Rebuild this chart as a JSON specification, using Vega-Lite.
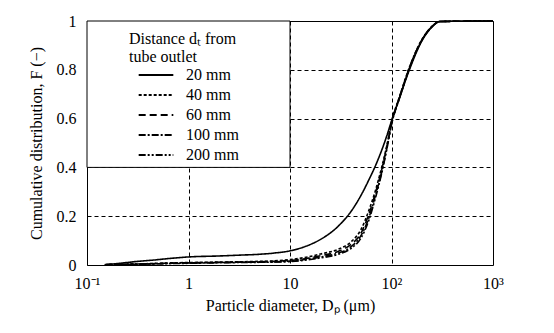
{
  "$schema": "https://vega.github.io/schema/vega-lite/v6.json",
  "width": 406,
  "height": 244,
  "autosize": "none",
  "padding": {"left": 87, "top": 21, "right": 61, "bottom": 68},
  "background": "white",
  "config": {
    "font": "Liberation Serif",
    "view": {"stroke": "black", "strokeWidth": 1},
    "legend": {"labelFont": "Liberation Serif", "titleFont": "Liberation Serif", "labelFontSize": 16, "titleFontSize": 16},
    "axis": {"labelFont": "Liberation Serif", "titleFont": "Liberation Serif", "labelFontSize": 16, "titleFontSize": 16, "titleFontWeight": "normal", "labelColor": "black", "titleColor": "black", "domain": false, "tickColor": "black", "grid": true, "gridColor": "black", "gridDash": [4, 3], "gridOpacity": 1, "gridWidth": 1}
  },
  "layer": [
    {
      "data": {"values": [{"x": 0.1, "x2": 10, "y": 0.4, "y2": 1}]},
      "mark": {"type": "rect", "fill": "white", "stroke": "black", "strokeWidth": 1},
      "encoding": {
        "x": {"field": "x", "type": "quantitative", "scale": {"type": "log", "domain": [0.1, 1000]}},
        "x2": {"field": "x2"},
        "y": {"field": "y", "type": "quantitative", "scale": {"domain": [0, 1]}},
        "y2": {"field": "y2"}
      }
    },
    {
      "data": {"values": [
        {"d": 0.15, "F": 0.002, "s": "20 mm"}, {"d": 0.2, "F": 0.006, "s": "20 mm"}, {"d": 0.3, "F": 0.014, "s": "20 mm"}, {"d": 0.5, "F": 0.022, "s": "20 mm"}, {"d": 0.7, "F": 0.028, "s": "20 mm"}, {"d": 1, "F": 0.033, "s": "20 mm"}, {"d": 2, "F": 0.037, "s": "20 mm"}, {"d": 3, "F": 0.04, "s": "20 mm"}, {"d": 5, "F": 0.044, "s": "20 mm"}, {"d": 7, "F": 0.049, "s": "20 mm"}, {"d": 10, "F": 0.058, "s": "20 mm"}, {"d": 15, "F": 0.08, "s": "20 mm"}, {"d": 20, "F": 0.105, "s": "20 mm"}, {"d": 30, "F": 0.16, "s": "20 mm"}, {"d": 40, "F": 0.22, "s": "20 mm"}, {"d": 50, "F": 0.285, "s": "20 mm"}, {"d": 60, "F": 0.35, "s": "20 mm"}, {"d": 70, "F": 0.41, "s": "20 mm"}, {"d": 80, "F": 0.47, "s": "20 mm"}, {"d": 90, "F": 0.53, "s": "20 mm"}, {"d": 100, "F": 0.59, "s": "20 mm"}, {"d": 120, "F": 0.685, "s": "20 mm"}, {"d": 150, "F": 0.8, "s": "20 mm"}, {"d": 200, "F": 0.92, "s": "20 mm"}, {"d": 250, "F": 0.975, "s": "20 mm"}, {"d": 300, "F": 0.998, "s": "20 mm"}, {"d": 1000, "F": 1, "s": "20 mm"},
        {"d": 0.15, "F": 0.001, "s": "40 mm"}, {"d": 0.2, "F": 0.002, "s": "40 mm"}, {"d": 0.3, "F": 0.004, "s": "40 mm"}, {"d": 0.5, "F": 0.007, "s": "40 mm"}, {"d": 0.7, "F": 0.009, "s": "40 mm"}, {"d": 1, "F": 0.01, "s": "40 mm"}, {"d": 2, "F": 0.012, "s": "40 mm"}, {"d": 3, "F": 0.013, "s": "40 mm"}, {"d": 5, "F": 0.015, "s": "40 mm"}, {"d": 7, "F": 0.017, "s": "40 mm"}, {"d": 10, "F": 0.022, "s": "40 mm"}, {"d": 15, "F": 0.033, "s": "40 mm"}, {"d": 20, "F": 0.045, "s": "40 mm"}, {"d": 30, "F": 0.065, "s": "40 mm"}, {"d": 40, "F": 0.095, "s": "40 mm"}, {"d": 50, "F": 0.145, "s": "40 mm"}, {"d": 60, "F": 0.225, "s": "40 mm"}, {"d": 70, "F": 0.31, "s": "40 mm"}, {"d": 80, "F": 0.4, "s": "40 mm"}, {"d": 90, "F": 0.49, "s": "40 mm"}, {"d": 100, "F": 0.585, "s": "40 mm"}, {"d": 120, "F": 0.69, "s": "40 mm"}, {"d": 150, "F": 0.81, "s": "40 mm"}, {"d": 200, "F": 0.925, "s": "40 mm"}, {"d": 250, "F": 0.978, "s": "40 mm"}, {"d": 300, "F": 0.998, "s": "40 mm"}, {"d": 1000, "F": 1, "s": "40 mm"},
        {"d": 0.15, "F": 0.001, "s": "60 mm"}, {"d": 0.2, "F": 0.002, "s": "60 mm"}, {"d": 0.3, "F": 0.004, "s": "60 mm"}, {"d": 0.5, "F": 0.006, "s": "60 mm"}, {"d": 0.7, "F": 0.008, "s": "60 mm"}, {"d": 1, "F": 0.009, "s": "60 mm"}, {"d": 2, "F": 0.011, "s": "60 mm"}, {"d": 3, "F": 0.012, "s": "60 mm"}, {"d": 5, "F": 0.013, "s": "60 mm"}, {"d": 7, "F": 0.015, "s": "60 mm"}, {"d": 10, "F": 0.019, "s": "60 mm"}, {"d": 15, "F": 0.028, "s": "60 mm"}, {"d": 20, "F": 0.038, "s": "60 mm"}, {"d": 30, "F": 0.056, "s": "60 mm"}, {"d": 40, "F": 0.085, "s": "60 mm"}, {"d": 50, "F": 0.13, "s": "60 mm"}, {"d": 60, "F": 0.21, "s": "60 mm"}, {"d": 70, "F": 0.3, "s": "60 mm"}, {"d": 80, "F": 0.39, "s": "60 mm"}, {"d": 90, "F": 0.485, "s": "60 mm"}, {"d": 100, "F": 0.58, "s": "60 mm"}, {"d": 120, "F": 0.688, "s": "60 mm"}, {"d": 150, "F": 0.808, "s": "60 mm"}, {"d": 200, "F": 0.924, "s": "60 mm"}, {"d": 250, "F": 0.977, "s": "60 mm"}, {"d": 300, "F": 0.998, "s": "60 mm"}, {"d": 1000, "F": 1, "s": "60 mm"},
        {"d": 0.15, "F": 0.001, "s": "100 mm"}, {"d": 0.2, "F": 0.002, "s": "100 mm"}, {"d": 0.3, "F": 0.003, "s": "100 mm"}, {"d": 0.5, "F": 0.005, "s": "100 mm"}, {"d": 0.7, "F": 0.007, "s": "100 mm"}, {"d": 1, "F": 0.008, "s": "100 mm"}, {"d": 2, "F": 0.01, "s": "100 mm"}, {"d": 3, "F": 0.011, "s": "100 mm"}, {"d": 5, "F": 0.012, "s": "100 mm"}, {"d": 7, "F": 0.013, "s": "100 mm"}, {"d": 10, "F": 0.016, "s": "100 mm"}, {"d": 15, "F": 0.024, "s": "100 mm"}, {"d": 20, "F": 0.033, "s": "100 mm"}, {"d": 30, "F": 0.049, "s": "100 mm"}, {"d": 40, "F": 0.075, "s": "100 mm"}, {"d": 50, "F": 0.12, "s": "100 mm"}, {"d": 60, "F": 0.195, "s": "100 mm"}, {"d": 70, "F": 0.29, "s": "100 mm"}, {"d": 80, "F": 0.38, "s": "100 mm"}, {"d": 90, "F": 0.48, "s": "100 mm"}, {"d": 100, "F": 0.578, "s": "100 mm"}, {"d": 120, "F": 0.686, "s": "100 mm"}, {"d": 150, "F": 0.806, "s": "100 mm"}, {"d": 200, "F": 0.923, "s": "100 mm"}, {"d": 250, "F": 0.977, "s": "100 mm"}, {"d": 300, "F": 0.998, "s": "100 mm"}, {"d": 1000, "F": 1, "s": "100 mm"},
        {"d": 0.15, "F": 0.001, "s": "200 mm"}, {"d": 0.2, "F": 0.002, "s": "200 mm"}, {"d": 0.3, "F": 0.003, "s": "200 mm"}, {"d": 0.5, "F": 0.005, "s": "200 mm"}, {"d": 0.7, "F": 0.006, "s": "200 mm"}, {"d": 1, "F": 0.007, "s": "200 mm"}, {"d": 2, "F": 0.009, "s": "200 mm"}, {"d": 3, "F": 0.01, "s": "200 mm"}, {"d": 5, "F": 0.011, "s": "200 mm"}, {"d": 7, "F": 0.012, "s": "200 mm"}, {"d": 10, "F": 0.014, "s": "200 mm"}, {"d": 15, "F": 0.021, "s": "200 mm"}, {"d": 20, "F": 0.029, "s": "200 mm"}, {"d": 30, "F": 0.044, "s": "200 mm"}, {"d": 40, "F": 0.068, "s": "200 mm"}, {"d": 50, "F": 0.11, "s": "200 mm"}, {"d": 60, "F": 0.185, "s": "200 mm"}, {"d": 70, "F": 0.28, "s": "200 mm"}, {"d": 80, "F": 0.375, "s": "200 mm"}, {"d": 90, "F": 0.475, "s": "200 mm"}, {"d": 100, "F": 0.575, "s": "200 mm"}, {"d": 120, "F": 0.684, "s": "200 mm"}, {"d": 150, "F": 0.805, "s": "200 mm"}, {"d": 200, "F": 0.922, "s": "200 mm"}, {"d": 250, "F": 0.976, "s": "200 mm"}, {"d": 300, "F": 0.998, "s": "200 mm"}, {"d": 1000, "F": 1, "s": "200 mm"}
      ]},
      "mark": {"type": "line", "interpolate": "monotone", "color": "black", "strokeWidth": 1.6},
      "encoding": {
        "x": {"field": "d", "type": "quantitative", "scale": {"type": "log", "domain": [0.1, 1000]},
          "axis": {"values": [0.1, 1, 10, 100, 1000], "labelExpr": "datum.value < 0.5 ? '10⁻¹' : datum.value < 5 ? '1' : datum.value < 50 ? '10' : datum.value < 500 ? '10²' : '10³'", "tickSize": 0, "labelPadding": 10, "title": "Particle diameter, Dₚ (μm)", "titlePadding": 6, "labelFlush": false}},
        "y": {"field": "F", "type": "quantitative", "scale": {"domain": [0, 1]},
          "axis": {"values": [0, 0.2, 0.4, 0.6, 0.8, 1], "format": "~g", "tickSize": 0, "labelPadding": 11, "title": "Cumulative distribution, F (−)", "titlePadding": 12, "labelFlush": false}},
        "strokeDash": {"field": "s", "type": "nominal",
          "scale": {"domain": ["20 mm", "40 mm", "60 mm", "100 mm", "200 mm"], "range": [[1, 0], [3, 2], [7, 4], [7, 2, 2, 2], [7, 2, 2, 2, 2, 2]]},
          "legend": {"orient": "none", "legendX": 42, "legendY": 10, "title": ["Distance dₜ from", "tube outlet"], "titleFont": "Liberation Serif", "titleFontSize": 16, "titleFontWeight": "normal", "titleColor": "black", "titlePadding": 0, "labelFont": "Liberation Serif", "labelFontSize": 16, "labelColor": "black", "symbolType": "M-2,0H2", "symbolSize": 300, "symbolStrokeWidth": 2, "symbolStrokeColor": "black", "symbolFillColor": "transparent", "symbolOffset": 17, "labelOffset": 20, "rowPadding": 2, "labelExpr": "datum.label == '20 mm' || datum.label == '40 mm' || datum.label == '60 mm' ? '\u2007' + datum.label : datum.label"}}
      }
    }
  ]
}
